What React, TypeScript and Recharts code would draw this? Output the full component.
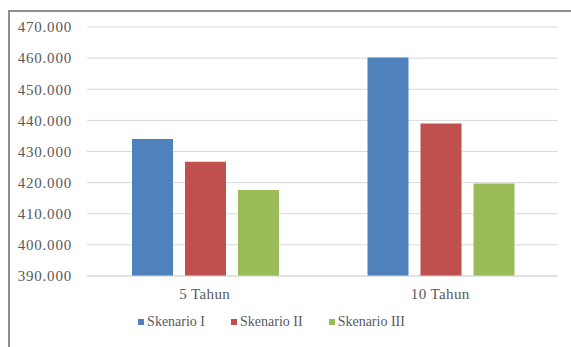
import React from "react";
import {
  BarChart,
  Bar,
  XAxis,
  YAxis,
  CartesianGrid,
  Legend,
} from "recharts";

const periods = ["5 Tahun", "10 Tahun"];
const skenarioI = [434000, 460200];
const skenarioII = [426700, 439000];
const skenarioIII = [417600, 419700];
const yTicks = [390000, 400000, 410000, 420000, 430000, 440000, 450000, 460000, 470000];

const SERIES = [
  { key: "s1", name: "Skenario I", color: "#4F81BD" },
  { key: "s2", name: "Skenario II", color: "#C0504D" },
  { key: "s3", name: "Skenario III", color: "#9BBB59" },
];

const data = periods.map((period, i) => ({
  period,
  s1: skenarioI[i],
  s2: skenarioII[i],
  s3: skenarioIII[i],
}));

const FONT = "'Liberation Serif', serif";
const TEXT = "#595959";

// 470000 -> "470.000"
const formatThousands = (v: number) =>
  String(Math.round(v)).replace(/\B(?=(\d{3})+(?!\d))/g, ".");

function LegendRow() {
  return (
    <div
      style={{
        display: "flex",
        justifyContent: "center",
        gap: 26,
        paddingTop: 8,
        paddingRight: 22,
        fontFamily: FONT,
        fontSize: 14,
        color: TEXT,
      }}
    >
      {SERIES.map((s) => (
        <span key={s.key} style={{ display: "flex", alignItems: "center" }}>
          <span
            style={{
              display: "inline-block",
              width: 6,
              height: 6,
              background: s.color,
              marginRight: 3,
            }}
          />
          {s.name}
        </span>
      ))}
    </div>
  );
}

export default function App() {
  return (
    <div style={{ position: "absolute", left: 0, top: 0, width: 571, height: 347, background: "#fff", overflow: "hidden", fontFamily: FONT }}>
      {/* frame of the chart area, open at right and bottom */}
      <div
        style={{
          position: "absolute",
          left: 8,
          top: 10,
          width: 620,
          height: 400,
          borderLeft: "2px solid #8f8f8f",
          borderTop: "2px solid #8f8f8f",
        }}
      />
      <div style={{ position: "absolute", left: 0, top: 0 }}>
        <BarChart
          width={571}
          height={347}
          data={data}
          margin={{ top: 27, right: 13, left: 7, bottom: 8 }}
          barCategoryGap={45}
          barGap={12}
          style={{ fontFamily: FONT }}
        >
          <CartesianGrid vertical={false} stroke="#d9d9d9" strokeWidth={1} />
          <XAxis
            dataKey="period"
            axisLine={{ stroke: "#d9d9d9" }}
            tickLine={false}
            height={30}
            tickMargin={6}
            tick={{ fontFamily: FONT, fontSize: 15, fill: TEXT, letterSpacing: 0.4 }}
          />
          <YAxis
            width={80}
            domain={[390000, 470000]}
            ticks={yTicks}
            allowDataOverflow
            axisLine={false}
            tickLine={false}
            tickSize={0}
            tickMargin={15}
            tickFormatter={formatThousands}
            tick={{ fontFamily: FONT, fontSize: 15, fill: TEXT, letterSpacing: 0.8 }}
          />
          <Legend verticalAlign="bottom" height={33} content={<LegendRow />} />
          {SERIES.map((s) => (
            <Bar key={s.key} dataKey={s.key} name={s.name} fill={s.color} isAnimationActive={false} />
          ))}
        </BarChart>
      </div>
    </div>
  );
}
